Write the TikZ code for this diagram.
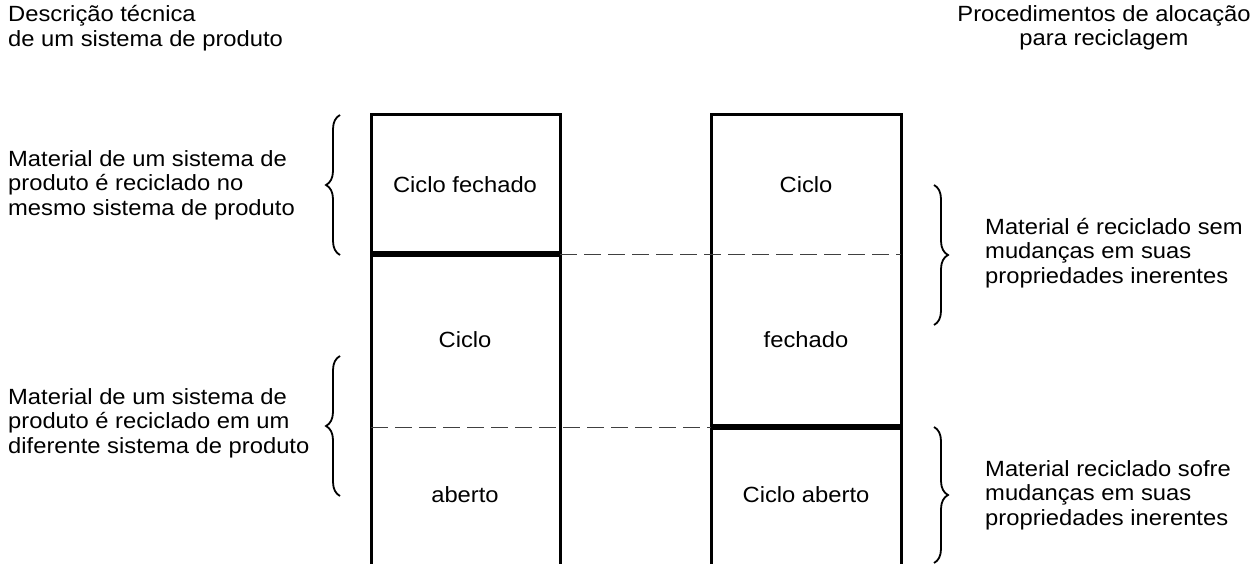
\documentclass[tikz,border=0pt]{standalone}
\usepackage{fontspec}
\setmainfont{Liberation Sans}[FakeStretch=1.08]
\usetikzlibrary{decorations.pathreplacing}
\begin{document}
\begin{tikzpicture}[x=1pt,y=-1pt,
  txt/.style={font=\fontsize{22}{24.5}\selectfont, inner sep=0pt},
  col/.style={line width=3pt, line join=miter},
  sepline/.style={line width=5.5pt},
  dsh/.style={line width=1pt, dash pattern=on 17pt off 7pt, black!75},
  brc/.style={decorate, decoration={brace, amplitude=14pt}, line width=1.8pt}]
\useasboundingbox (0,0) rectangle (1258,564);
% column corners
\coordinate (LBl) at (371,570); \coordinate (LTl) at (371,115);
\coordinate (LTr) at (560,115); \coordinate (LBr) at (560,570);
\coordinate (RBl) at (711,570); \coordinate (RTl) at (711,115);
\coordinate (RTr) at (901,115); \coordinate (RBr) at (901,570);
% separation levels
\coordinate (LA) at (371,254); \coordinate (LB) at (560,254);
\coordinate (RA) at (711,254); \coordinate (RB) at (901,254);
\coordinate (LC) at (371,427); \coordinate (LD) at (560,427);
\coordinate (RC) at (711,427); \coordinate (RD) at (901,427);
% columns
\draw[col] (LBl) -- (LTl) -- (LTr) -- (LBr);
\draw[col] (RBl) -- (RTl) -- (RTr) -- (RBr);
% lines
\draw[sepline] (LA) -- (LB);
\draw[dsh] (LB) -- (RB);
\draw[dsh] (LC) -- (RC);
\draw[sepline] (RC) -- (RD);
% column texts
\node[txt] (c1) at (465,185) {Ciclo fechado};
\node[txt] (c2) at (465,340) {Ciclo};
\node[txt] (c3) at (465,495) {aberto};
\node[txt] (d1) at (806,185) {Ciclo};
\node[txt] (d2) at (806,340) {fechado};
\node[txt] (d3) at (806,495) {Ciclo aberto};
% headers
\node[txt, anchor=west, align=left] (h1) at (8,28) {Descrição técnica\\de um sistema de produto};
\node[txt, align=center] (h2) at (1104,28) {Procedimentos de alocação\\para reciclagem};
% braces
\coordinate (b1a) at (340,255); \coordinate (b1b) at (340,115);
\coordinate (b2a) at (340,496); \coordinate (b2b) at (340,356);
\coordinate (b3a) at (934,185); \coordinate (b3b) at (934,325);
\coordinate (b4a) at (934,427); \coordinate (b4b) at (934,563);
\draw[brc] (b1a) -- (b1b);
\draw[brc] (b2a) -- (b2b);
\draw[brc] (b3a) -- (b3b);
\draw[brc] (b4a) -- (b4b);
% side texts
\node[txt, anchor=west, align=left] (t1) at (8,185) {Material de um sistema de\\produto é reciclado no\\mesmo sistema de produto};
\node[txt, anchor=west, align=left] (t2) at (8,423) {Material de um sistema de\\produto é reciclado em um\\diferente sistema de produto};
\node[txt, anchor=west, align=left] (t3) at (985,253) {Material é reciclado sem\\mudanças em suas\\propriedades inerentes};
\node[txt, anchor=west, align=left] (t4) at (985,495) {Material reciclado sofre\\mudanças em suas\\propriedades inerentes};
\end{tikzpicture}
\end{document}
